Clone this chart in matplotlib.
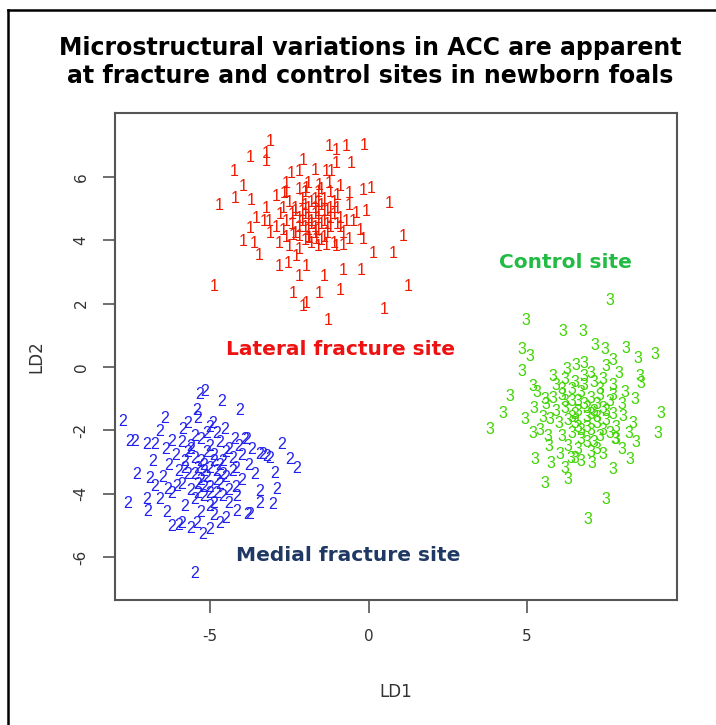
import matplotlib
matplotlib.use("Agg")
import matplotlib.pyplot as plt
from matplotlib.lines import Line2D

# LD scores (group 1 = lateral fracture, 2 = medial fracture, 3 = control)
ld1_lateral = [-3.10, -3.75, -3.24, -3.24, -2.07, -1.23, -1.02, -0.70, -0.13, -0.55,
               -4.23, -3.97, -4.70, -4.20, -3.70, -3.24, -2.91, -2.60, -2.44, -2.18,
               -1.70, -1.33, -1.18, -1.02, -2.65, -1.97, -1.55, -1.23, -0.91, -0.60,
               -0.18, 0.09, 0.66, -0.39, -0.07, -3.54, -3.75, -3.97, -3.60, -3.44,
               -3.14, -2.81, -2.39, -2.18, -1.86, -1.65, -1.33, -1.02, -0.81, -0.60,
               -0.28, -0.18, 0.14, 0.77, 1.08, -2.81, -2.55, -2.28, -1.97, -2.18,
               -1.39, -0.81, -0.23, -4.86, -2.39, -1.55, -0.91, -1.97, -2.07, -1.27,
               0.50, 1.24,
               -2.5, -2.3, -2.1, -1.9, -1.7, -1.5, -1.3, -1.1, -0.9, -2.4,
               -2.2, -2.0, -1.8, -1.6, -1.4, -1.2, -1.0, -0.8, -2.6, -2.3,
               -1.9, -1.7, -1.5, -1.3, -1.1, -2.0, -1.6, -1.2, -2.8, -2.7,
               -1.8, -1.4, -2.1, -1.6, -1.9, -1.2, -0.7, -2.9, -2.5, -1.6,
               -2.2, -0.6, -1.0, -3.1, -3.3, -2.6, -1.7, -2.0, -1.5, -1.8,
               -2.3, -2.0, -1.7, -1.4, -1.9, -1.6, -2.2, -1.3, -1.7, -2.0,
               -1.4, -2.4, -1.1, -0.9, -2.6, -1.5, -1.9, -1.0, -2.2, -0.5,
               -2.7, -1.8, -1.6, -2.1, -1.2]
ld2_lateral = [7.11, 6.63, 6.74, 6.48, 6.53, 6.95, 6.85, 6.95, 7.00, 6.43,
               6.16, 5.69, 5.11, 5.32, 5.27, 5.01, 5.37, 5.79, 6.11, 6.16,
               6.21, 6.16, 6.16, 6.43, 5.48, 5.64, 5.74, 5.79, 5.69, 5.48,
               5.58, 5.64, 5.16, 4.85, 4.90, 4.69, 4.38, 3.95, 3.90, 3.53,
               4.58, 3.90, 4.16, 4.11, 4.06, 4.01, 3.85, 3.79, 3.85, 4.01,
               4.32, 4.01, 3.59, 3.59, 4.11, 3.16, 3.27, 3.48, 3.16, 2.85,
               2.85, 3.06, 3.06, 2.53, 2.32, 2.32, 2.43, 2.01, 1.90, 1.48,
               1.80, 2.53,
               5.2, 4.9, 5.3, 5.0, 4.8, 5.1, 4.9, 5.2, 4.7, 4.5,
               4.7, 4.4, 4.6, 4.3, 4.6, 4.4, 4.5, 4.2, 4.1, 4.2,
               4.1, 4.4, 4.0, 4.2, 3.9, 5.5, 5.5, 5.5, 4.8, 5.0,
               5.2, 5.3, 4.9, 4.7, 4.3, 4.7, 4.6, 4.4, 3.8, 3.8,
               3.7, 5.1, 5.0, 4.2, 4.6, 5.5, 5.0, 4.8, 4.5, 3.9,
               5.0, 5.1, 5.3, 4.9, 4.7, 4.9, 4.4, 4.5, 4.2, 4.0,
               4.1, 4.8, 4.8, 4.4, 4.6, 5.6, 5.8, 5.4, 5.6, 4.6,
               4.3, 4.5, 5.2, 4.6, 5.0]

ld1_medial = [-5.33, -5.17, -4.65, -4.07, -7.75, -6.44, -5.44, -5.38, -4.91, -5.86,
              -6.59, -7.54, -7.38, -7.01, -6.75, -6.22, -4.54, -4.23, -3.86, -2.75,
              -3.33, -3.12, -2.49, -2.28, -7.33, -6.91, -6.75, -7.59, -7.01, -6.96,
              -6.33, -6.07, -6.38, -6.22, -5.91, -5.44, -5.23, -5.02, -4.70, -4.17,
              -3.75, -3.44, -3.02, -2.91, -3.44, -2.97, -5.49, -3.23, -3.44, -3.91,
              -4.17, -3.81,
              -5.9, -5.6, -5.3, -5.0, -4.7, -4.4, -4.1, -6.1, -5.8, -5.5,
              -5.2, -4.9, -4.6, -4.3, -4.0, -6.0, -5.7, -5.4, -5.1, -4.8,
              -4.5, -4.2, -5.9, -5.6, -5.3, -5.0, -4.7, -4.4, -5.5, -5.2,
              -4.9, -4.6, -6.3, -6.4, -6.2, -5.8, -5.3, -4.9, -4.4, -5.1,
              -5.5, -4.8, -5.7, -5.0, -4.0, -3.8, -3.7, -3.6, -5.2, -4.9,
              -5.4, -4.6, -5.0, -5.7, -6.5, -6.6, -6.8, -6.0, -5.6, -4.5,
              -5.3, -5.0, -4.8, -5.2, -5.5, -4.7, -5.1, -4.5, -5.8, -4.3,
              -5.4, -4.8, -5.6, -4.2, -5.0]
ld2_medial = [-0.88, -0.78, -1.09, -1.36, -1.73, -1.62, -1.36, -1.62, -1.77, -1.99,
              -2.04, -2.36, -2.36, -2.46, -2.46, -2.36, -1.99, -2.30, -2.30, -2.46,
              -2.78, -2.88, -2.93, -3.20, -3.41, -3.51, -3.78, -4.30, -4.20, -4.56,
              -3.88, -3.78, -4.61, -5.04, -4.93, -4.93, -5.30, -5.14, -4.93, -4.56,
              -4.67, -4.30, -4.35, -3.88, -3.93, -3.35, -6.51, -2.83, -2.78, -2.30,
              -4.09, -4.67,
              -2.4, -2.6, -2.3, -2.5, -2.4, -2.6, -2.5, -2.8, -3.0, -2.9,
              -3.1, -2.8, -3.0, -2.9, -2.8, -3.3, -3.4, -3.2, -3.5, -3.3,
              -3.5, -3.2, -3.7, -3.9, -3.6, -3.8, -3.7, -3.9, -4.2, -4.1,
              -4.3, -4.1, -3.1, -2.6, -4.0, -4.4, -4.6, -4.7, -4.3, -2.1,
              -2.2, -2.1, -1.8, -1.9, -3.6, -3.1, -2.6, -3.4, -3.3, -3.0,
              -3.7, -3.4, -4.0, -2.7, -3.5, -4.2, -3.0, -5.0, -5.1, -4.8,
              -3.0, -3.2, -3.6, -3.8, -3.4, -3.1, -2.7, -2.7, -3.2, -3.3,
              -4.0, -4.0, -2.5, -3.8, -4.4]

ld1_control = [7.60, 4.97, 6.13, 6.76, 4.82, 5.08, 4.82, 7.13, 7.44, 8.13,
               8.49, 9.02, 4.45, 4.24, 3.82, 4.92, 5.18, 5.18, 5.24, 5.76,
               6.03, 5.55, 6.29, 7.50, 6.92, 9.23, 9.13, 8.39, 8.44, 8.23,
               7.71, 8.02, 8.34, 7.76, 6.39, 6.71, 7.03, 7.39, 8.55, 8.60,
               5.81, 6.24, 6.55, 7.71, 5.55, 5.71, 5.66,
               5.9, 6.2, 6.5, 6.8, 7.1, 7.4, 7.7, 5.8, 6.1, 6.4,
               6.7, 7.0, 7.3, 7.6, 5.9, 6.2, 6.5, 6.8, 7.1, 7.4,
               7.7, 6.0, 6.3, 6.6, 6.9, 7.2, 7.5, 7.8, 6.1, 6.4,
               6.7, 7.0, 7.3, 7.6, 6.3, 6.6, 6.9, 7.2, 5.6, 5.5,
               5.4, 8.0, 8.1, 7.9, 6.6, 6.9, 6.4, 7.2, 7.0, 6.8,
               7.5, 7.8, 6.5, 7.0, 5.7, 5.3, 5.2, 8.2, 8.0, 6.2,
               6.6, 6.9, 7.2, 6.5, 7.0, 6.8, 7.3, 6.2, 7.5, 6.7,
               7.1, 6.4, 7.7, 6.1, 7.4]
ld2_control = [2.11, 1.48, 1.11, 1.11, 0.54, 0.33, -0.15, 0.69, 0.54, 0.59,
               0.27, 0.38, -0.94, -1.46, -1.99, -1.67, -0.62, -2.09, -2.93, -3.04,
               -2.78, -3.67, -3.56, -4.20, -4.83, -1.46, -2.09, -1.04, -2.40, -2.93,
               -3.25, -1.57, -1.78, -2.30, -2.88, -2.99, -3.04, -2.78, -0.31, -0.52,
               -0.31, -0.09, 0.06, 0.22, -1.04, -1.67, -2.20,
               -0.6, -0.4, -0.5, -0.3, -0.5, -0.4, -0.6, -1.0, -0.9, -1.1,
               -0.8, -1.0, -0.9, -1.1, -1.4, -1.3, -1.5, -1.2, -1.4, -1.3,
               -1.5, -1.8, -1.7, -1.9, -1.6, -1.8, -1.7, -1.9, -2.2, -2.1,
               -2.3, -2.0, -2.2, -2.1, -2.5, -2.6, -2.4, -2.6, -1.2, -1.6,
               -2.0, -1.2, -0.8, -0.2, -1.4, -1.9, -0.7, -1.2, -0.2, 0.1,
               0.0, -2.3, -2.9, -2.7, -2.5, -0.8, -1.3, -2.1, -2.6, -3.2,
               -1.1, -1.3, -1.6, -1.8, -1.5, -0.6, -0.7, -1.1, -1.4, -2.0,
               -2.4, -1.6, -0.9, -0.7, -2.0]

groups = [("1", ld1_lateral, ld2_lateral, "#f01a00"),
          ("2", ld1_medial, ld2_medial, "#2020f0"),
          ("3", ld1_control, ld2_control, "#3ed400")]

x_ticks = [-5, 0, 5]
y_ticks = [-6, -4, -2, 0, 2, 4, 6]

fig = plt.figure(figsize=(7.16, 7.25), dpi=100)
ax = fig.add_axes([0.1606, 0.1724, 0.785, 0.6717])

for lab, xs, ys, col in groups:
    for x, y in zip(xs, ys):
        ax.text(x, y, lab, color=col, fontsize=11.5, ha="center", va="center",
                family=["Liberation Sans Narrow", "Liberation Sans"])

ax.set_xlim(-8.0, 9.73)
ax.set_ylim(-7.36, 8.02)
ax.set_xticks(x_ticks)
ax.set_xticklabels([str(t) for t in x_ticks])
ax.set_yticks(y_ticks)
ax.set_yticklabels([str(t) for t in y_ticks], rotation=90, va="center")
ax.tick_params(length=9, width=1.2, color="#555555", labelsize=11,
               labelcolor="#333333", direction="out")
ax.tick_params(axis="x", pad=12)
ax.tick_params(axis="y", pad=10)
for s in ax.spines.values():
    s.set_color("#555555")
    s.set_linewidth(1.5)
ax.set_xlabel("LD1", fontsize=12, color="#333333", labelpad=28)
ax.set_ylabel("LD2", fontsize=12, color="#333333", labelpad=20)

ax.text(-0.88, 0.54, "Lateral fracture site", color="#ee1111", fontsize=14.5,
        fontweight="bold", ha="center", va="center")
ax.text(6.21, 3.31, "Control site", color="#22bb44", fontsize=14.5,
        fontweight="bold", ha="center", va="center")
ax.text(-0.63, -5.96, "Medial fracture site", color="#1f3864", fontsize=14.5,
        fontweight="bold", ha="center", va="center")

fig.text(0.517, 1 - 48 / 725, "Microstructural variations in ACC are apparent",
         fontsize=17, fontweight="bold", ha="center", va="center")
fig.text(0.517, 1 - 76 / 725, "at fracture and control sites in newborn foals",
         fontsize=17, fontweight="bold", ha="center", va="center")

# outer frame (only left and top edges show)
fig.add_artist(Line2D([8 / 716, 8 / 716], [0, 1 - 10 / 725], color="black", lw=1.8))
fig.add_artist(Line2D([8 / 716, 1], [1 - 10 / 725, 1 - 10 / 725], color="black", lw=1.8))

fig.savefig("out.png", dpi=100)
